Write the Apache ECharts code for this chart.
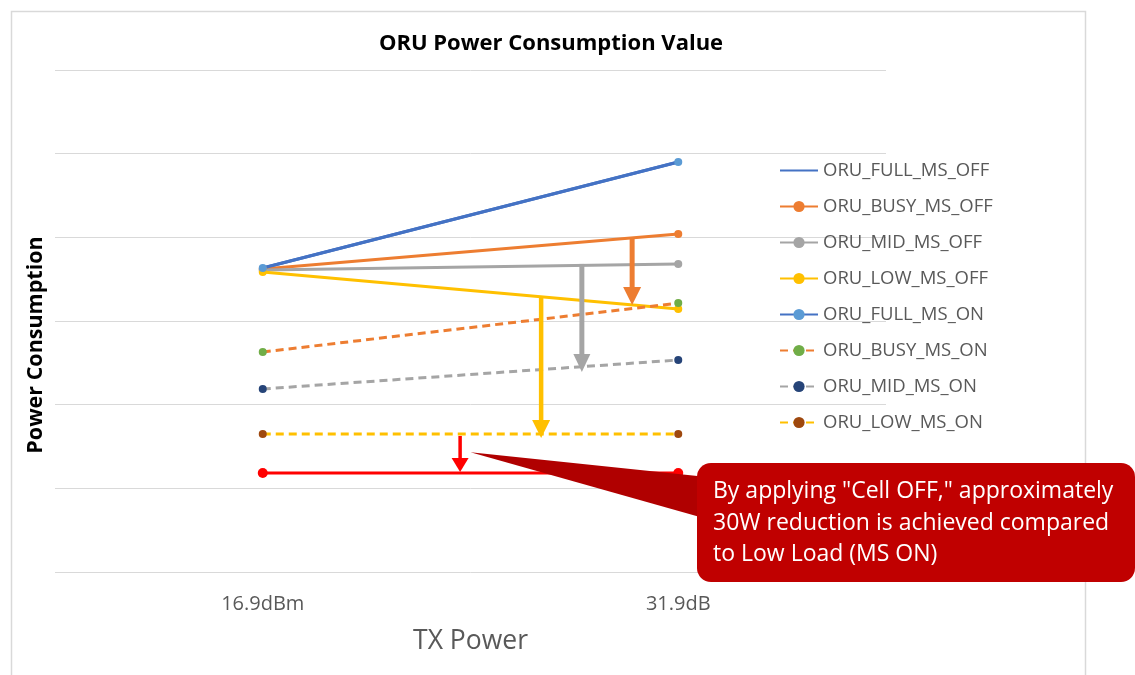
<!DOCTYPE html>
<html>
<head>
<meta charset="utf-8">
<script src="https://cdn.jsdelivr.net/npm/echarts@6/dist/echarts.min.js"></script>
<style>
html,body{margin:0;padding:0;background:#fff;}
#chart{width:1135px;height:675px;}
</style>
</head>
<body>
<div id="chart"></div>
<script>
// ---- data ----
const categories = ['16.9dBm', '31.9dB'];
const fullMsOff = [181.7, 245.0];
const busyMsOff = [181.1, 202.0];
const midMsOff  = [180.5, 184.1];
const lowMsOff  = [179.3, 157.2];
const fullMsOn  = [181.7, 245.0];
const busyMsOn  = [131.5, 160.7];
const midMsOn   = [109.4, 126.7];
const lowMsOn   = [82.5, 82.5];
const cellOff   = [59.2, 59.2];
// annotation arrows: position between categories (0..1), start value, end value
const arrowPos  = [0.889, 0.768, 0.670, 0.475];
const arrowFrom = [199.6, 184.1, 164.3, 81.3];
const arrowTo   = [159.6, 119.5, 80.1, 59.8];
const calloutTip = [0.50, 71.5];
const calloutLines = ['By applying "Cell OFF," approximately', '30W reduction is achieved compared', 'to Low Load (MS ON)'];

const FONT = 'Open Sans';
const arrowColors = ['#ED7D31', '#A5A5A5', '#FFC000', '#FF0000'];
const arrowShaft = [5, 5, 4.5, 3.5];
const arrowHeadW = [18, 17, 18, 17];
const arrowHeadH = [18, 18, 18, 14];

function lineSeries(name, data, lineColor, markColor, dashed, symbol) {
  return {
    name: name, type: 'line', data: data,
    xAxisIndex: 0, yAxisIndex: 0,
    symbol: symbol === false ? 'none' : 'circle',
    symbolSize: 8,
    showSymbol: symbol !== false,
    lineStyle: { color: lineColor, width: 3, type: dashed ? [8, 5] : 'solid' },
    itemStyle: { color: markColor },
    emphasis: { disabled: true },
    animation: false
  };
}

const chart = echarts.init(document.getElementById('chart'), null, { renderer: 'canvas' });
const option = {
  animation: false,
  backgroundColor: '#fff',
  title: {
    text: 'ORU Power Consumption Value',
    left: 546, top: 28, textAlign: 'center',
    textStyle: { fontFamily: FONT, fontSize: 22, fontWeight: 'bold', color: '#000' }
  },
  grid: { left: 55, right: 249, top: 70, bottom: 103, containLabel: false },
  legend: {
    orient: 'vertical', left: 774, top: 156,
    itemWidth: 38, itemHeight: 14, itemGap: 17,
    data: [{ name: 'ORU_FULL_MS_OFF', itemStyle: { opacity: 0 } }, 'ORU_BUSY_MS_OFF', 'ORU_MID_MS_OFF', 'ORU_LOW_MS_OFF',
           'ORU_FULL_MS_ON', 'ORU_BUSY_MS_ON', 'ORU_MID_MS_ON', 'ORU_LOW_MS_ON'],
    textStyle: { fontFamily: FONT, fontSize: 18.5, color: '#595959' },
    selectedMode: false
  },
  xAxis: [{
    type: 'category', data: categories, boundaryGap: true,
    axisLine: { show: false }, axisTick: { show: false },
    axisLabel: { fontFamily: FONT, fontSize: 20, color: '#595959', margin: 22 },
    name: 'TX Power', nameLocation: 'middle', nameGap: 56,
    nameTextStyle: { fontFamily: FONT, fontSize: 26.5, color: '#595959' }
  }, {
    type: 'value', min: -0.5, max: 1.5, show: false
  }],
  yAxis: {
    type: 'value', min: 0, max: 300, interval: 50,
    axisLabel: { show: false }, axisLine: { show: false }, axisTick: { show: false },
    splitLine: { lineStyle: { color: '#D9D9D9', width: 1 } },
    name: 'Power Consumption', nameLocation: 'middle', nameGap: 8,
    nameTextStyle: { fontFamily: FONT, fontSize: 21.5, fontWeight: 'bold', color: '#000', padding: [0, 48, 0, 0] }
  },
  series: [
    lineSeries('ORU_FULL_MS_OFF', fullMsOff, '#4472C4', '#4472C4', false, false),
    lineSeries('ORU_BUSY_MS_OFF', busyMsOff, '#ED7D31', '#ED7D31', false),
    lineSeries('ORU_MID_MS_OFF', midMsOff, '#A5A5A5', '#A5A5A5', false),
    lineSeries('ORU_LOW_MS_OFF', lowMsOff, '#FFC000', '#FFC000', false),
    lineSeries('ORU_FULL_MS_ON', fullMsOn, '#4472C4', '#5B9BD5', false),
    lineSeries('ORU_BUSY_MS_ON', busyMsOn, '#ED7D31', '#70AD47', true),
    lineSeries('ORU_MID_MS_ON', midMsOn, '#A5A5A5', '#264478', true),
    lineSeries('ORU_LOW_MS_ON', lowMsOn, '#FFC000', '#9E480E', true),
    Object.assign(lineSeries('Cell_OFF', cellOff, '#FF0000', '#FF0000', false), { symbolSize: 10 }),
    {
      name: 'arrows', type: 'custom', xAxisIndex: 1, yAxisIndex: 0,
      data: arrowPos.map((p, i) => [p, arrowFrom[i], arrowTo[i], i]),
      silent: true, animation: false, z: 5,
      renderItem: function (params, api) {
        const i = api.value(3);
        const p1 = api.coord([api.value(0), api.value(1)]);
        const p2 = api.coord([api.value(0), api.value(2)]);
        const hw = arrowHeadW[i] / 2, hh = arrowHeadH[i];
        const c = arrowColors[i];
        return {
          type: 'group',
          children: [{
            type: 'line',
            shape: { x1: p1[0], y1: p1[1], x2: p2[0], y2: p2[1] - hh + 1 },
            style: { stroke: c, lineWidth: arrowShaft[i] }
          }, {
            type: 'polygon',
            shape: { points: [[p2[0] - hw, p2[1] - hh], [p2[0] + hw, p2[1] - hh], [p2[0], p2[1]]] },
            style: { fill: c }
          }]
        };
      }
    }
  ]
};
chart.setOption(option);

// callout annotation
const tip = chart.convertToPixel({ xAxisIndex: 1, yAxisIndex: 0 }, calloutTip);
const boxX = 697, boxY = 463, boxW = 438, boxH = 119;
chart.setOption({
  graphic: [
    { type: 'rect', left: 9, top: 9, shape: { width: 1074, height: 700 },
      style: { fill: null, stroke: '#D9D9D9', lineWidth: 1.5 }, silent: true, z: -10 },
    { type: 'polygon', shape: { points: [tip, [boxX + 10, boxY + 14], [boxX + 10, boxY + 56]] },
      style: { fill: '#B00000' }, z: 20 },
    { type: 'rect', shape: { x: boxX, y: boxY, width: boxW, height: boxH, r: 14 },
      style: { fill: '#C00000' }, z: 21 },
    { type: 'text', x: boxX + 16, y: boxY + 13, z: 22,
      style: { text: calloutLines.join('\n'), fill: '#fff', font: '23px "' + FONT + '"', lineHeight: 31.5 } }
  ]
});
</script>
</body>
</html>
